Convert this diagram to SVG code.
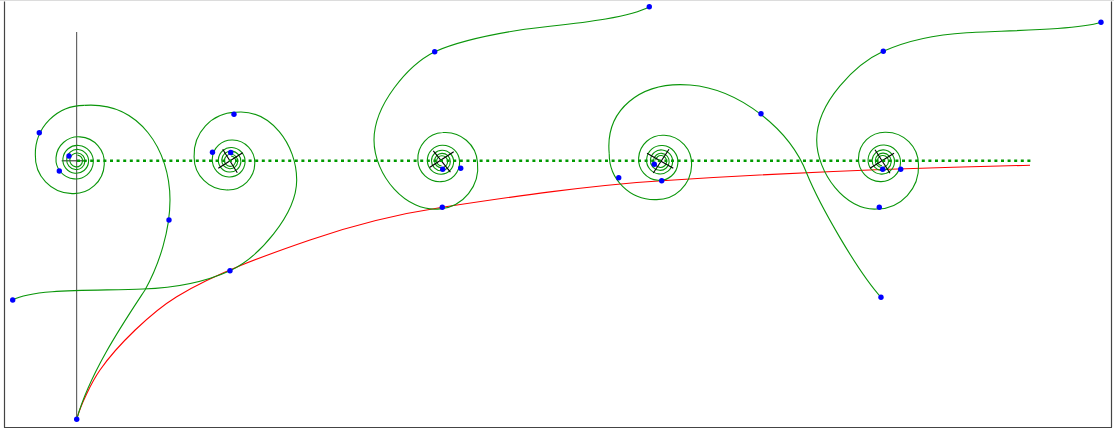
<svg xmlns="http://www.w3.org/2000/svg" width="1114" height="435" viewBox="0 0 1114 435">
<style>
.g{fill:none;stroke:#0a960a;stroke-width:1.1;stroke-linejoin:round}
.x{stroke:#000;stroke-width:1.1}
.d{fill:#0000ff}
.red{fill:none;stroke:#ff0000;stroke-width:1.1}
.dot{stroke:#009a00;stroke-width:2.6;stroke-dasharray:3 3.6}
.frame{stroke:#444;stroke-width:1.2}
</style>
<defs>
<path id="sp" class="g" vector-effect="non-scaling-stroke" d="M0,53.05 A46.42,46.42 0 0 0 39.79,0 A35.81,35.81 0 0 0 0,-31.83 A29.18,29.18 0 0 0 -26.53,0 A24.64,24.64 0 0 0 0,22.74 A21.32,21.32 0 0 0 19.89,0 A18.79,18.79 0 0 0 0,-17.68 A16.8,16.8 0 0 0 -15.92,0 A15.2,15.2 0 0 0 0,14.47 A13.87,13.87 0 0 0 13.26,0 A12.75,12.75 0 0 0 0,-12.24 A11.8,11.8 0 0 0 -11.37,0 A10.99,10.99 0 0 0 0,10.61 A10.1,10.1 0 0 0 9.6,0 A9.15,9.15 0 0 0 0,-8.7 A8.3,8.3 0 0 0 -7.9,0 A7.55,7.55 0 0 0 0,7.2 A6.9,6.9 0 0 0 6.6,0 A6.35,6.35 0 0 0 0,-6.1 A5.85,5.85 0 0 0 -5.6,0 A5.4,5.4 0 0 0 0,5.2"/>
</defs>
<rect x="0" y="0" width="1114" height="435" fill="#fff"/>
<g id="frame">
<line x1="0" y1="0.5" x2="1114" y2="0.5" stroke="#dcdcdc" stroke-width="1.2"/>
<line class="frame" x1="4.5" y1="1.5" x2="4.5" y2="427.5"/>
<line class="frame" x1="4" y1="427.5" x2="1112" y2="427.5"/>
<line class="frame" x1="1111.5" y1="1.5" x2="1111.5" y2="427.5"/>
</g>
<g id="connectors">
<line id="axis" x1="76.6" y1="32" x2="76.6" y2="419" stroke="#666" stroke-width="1.2"/>
<line x1="61.7" y1="160.8" x2="86.7" y2="160.8" stroke="#333" stroke-width="1.1"/>
<path id="locus" class="red" d="M76.7,419.3 C80.2,405.7 91.5,382.3 100,370 C117.1,345.4 151.1,312.4 176.7,296.7 C215.1,273.2 267.4,254.6 310,240 C351.6,225.7 398.8,213.9 442.3,207.3 C515.3,196.2 589,185.4 662,180.7 C782,173 910,167.8 1030,165.3"/>
</g>
<g id="spiral1">
<path class="g" d="M76.7,419.3 C90,372 124,322 145,290 C159.6,263.8 170,230 170,200 C170,150 139.5,101.5 84.45,105.34"/>
<use href="#sp" transform="translate(76.7 160.5) rotate(188) scale(1.05)"/>
</g>
<g id="spiral2">
<path class="g" d="M12.7,300 C35,288 100,291 143,289 C173,288 202.6,283 230,270.7 C257.4,258.4 296.7,215 296.7,180 C296.7,145 270.6,108.6 235.6,112.3"/>
<use href="#sp" transform="translate(230.5 160.8) rotate(186) scale(0.92)"/>
<line class="x" x1="218.3" y1="168.3" x2="242.7" y2="152.7"/>
<line class="x" x1="222.7" y1="149.3" x2="237.3" y2="172.7"/>
</g>
<g id="spiral3">
<path class="g" d="M649.3,6.7 C624.3,20.7 550,25.3 520,30 C492,34.4 460,40.5 434.7,51.7 C407.9,65.1 374,105 374,140 C374,175 406,213 440.03,208.92"/>
<use href="#sp" transform="translate(441.7 161.2) rotate(2) scale(0.9)"/>
<line class="x" x1="429.5" y1="167.5" x2="453.7" y2="151.7"/>
<line class="x" x1="433.3" y1="150.8" x2="450.4" y2="172.2"/>
</g>
<g id="spiral4">
<path class="g" d="M881,297.3 C857.6,271.4 820,206 806.7,173.3 C790,130 740,89 690,85 C640,81 605,110 609.22,153.76"/>
<use href="#sp" transform="translate(660.7 161) rotate(98) scale(0.98)"/>
<line class="x" x1="647" y1="153.3" x2="673.3" y2="168.3"/>
<line class="x" x1="653.3" y1="173" x2="669" y2="149.3"/>
</g>
<g id="spiral5">
<path class="g" d="M1101,22.3 C1075,30.5 1001.7,30.5 966.7,32.7 C938.7,34.4 908.8,39.7 883.3,51.3 C856,63.8 816.7,102 816.7,140 C816.7,172 845,211.5 877.45,209"/>
<use href="#sp" transform="translate(882.5 161) rotate(6) scale(0.91)"/>
<line class="x" x1="870" y1="168.3" x2="894" y2="153.3"/>
<line class="x" x1="875" y1="149.7" x2="890" y2="173.3"/>
</g>
<g id="baseline">
<line class="dot" x1="77" y1="160.8" x2="1032" y2="160.8"/>
</g>
<g id="points">
<circle class="d" cx="76.7" cy="419.3" r="2.7"/>
<circle class="d" cx="169" cy="220" r="2.7"/>
<circle class="d" cx="39.3" cy="132.7" r="2.7"/>
<circle class="d" cx="59.3" cy="171" r="2.7"/>
<circle class="d" cx="69" cy="156" r="2.7"/>
<circle class="d" cx="12.7" cy="300" r="2.7"/>
<circle class="d" cx="230" cy="270.7" r="2.7"/>
<circle class="d" cx="234" cy="114.3" r="2.7"/>
<circle class="d" cx="212.5" cy="152.3" r="2.7"/>
<circle class="d" cx="230.7" cy="152.5" r="2.7"/>
<circle class="d" cx="649.3" cy="6.7" r="2.7"/>
<circle class="d" cx="434.7" cy="51.7" r="2.7"/>
<circle class="d" cx="442.3" cy="207.3" r="2.7"/>
<circle class="d" cx="460.7" cy="168.3" r="2.7"/>
<circle class="d" cx="442.7" cy="169.3" r="2.7"/>
<circle class="d" cx="881" cy="297.3" r="2.7"/>
<circle class="d" cx="761" cy="113.7" r="2.7"/>
<circle class="d" cx="618.7" cy="177.7" r="2.7"/>
<circle class="d" cx="661.7" cy="180.7" r="2.7"/>
<circle class="d" cx="654.3" cy="164.3" r="2.7"/>
<circle class="d" cx="1101" cy="22.3" r="2.7"/>
<circle class="d" cx="883.3" cy="51.3" r="2.7"/>
<circle class="d" cx="879.3" cy="207.3" r="2.7"/>
<circle class="d" cx="900.7" cy="169.3" r="2.7"/>
<circle class="d" cx="882.7" cy="169.3" r="2.7"/>
</g>
</svg>
